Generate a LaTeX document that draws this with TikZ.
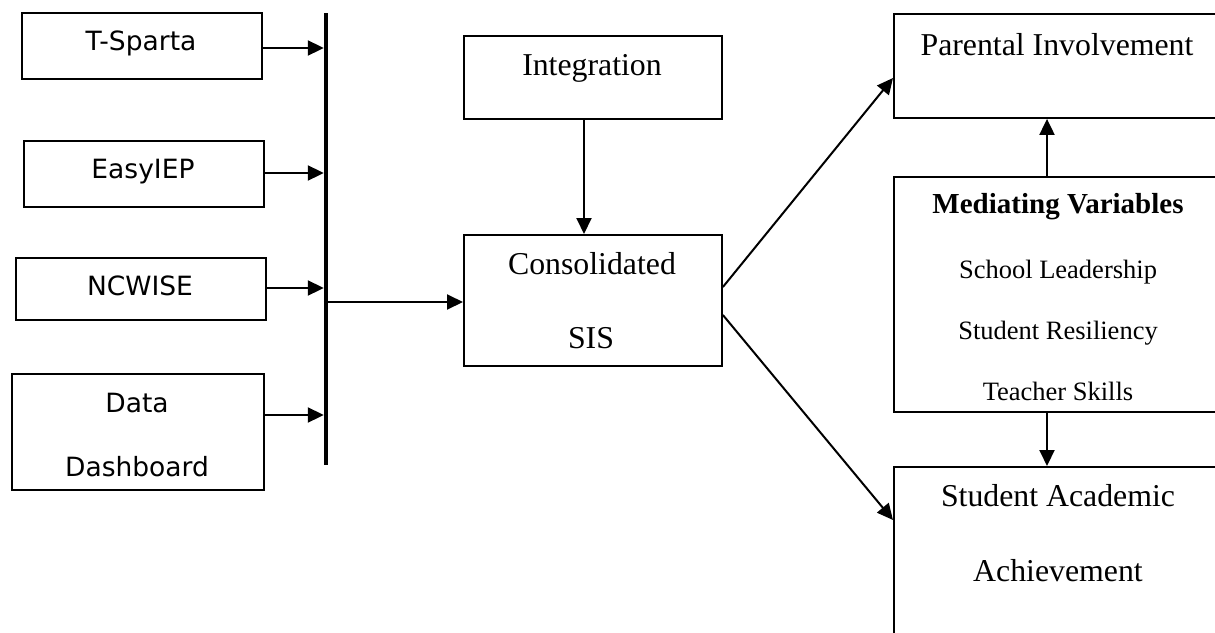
\documentclass[tikz,border=0pt]{standalone}
\usepackage{fontspec}
\setmainfont{Liberation Serif}
\newfontfamily\vsans{DejaVu Sans}
\usetikzlibrary{arrows.meta,calc}
\begin{document}
\begin{tikzpicture}[x=1pt,y=-1pt,
  box/.style={draw, line width=1.9pt, inner sep=0pt, anchor=north west},
  arr/.style={line width=2pt, -{Triangle[length=16pt,width=15pt]}},
  sanst/.style={font=\vsans\fontsize{26.5}{30}\selectfont, anchor=base, inner sep=0pt},
  sert/.style={font=\fontsize{31.8}{36}\selectfont, anchor=base, inner sep=0pt},
  smallt/.style={font=\fontsize{26.5}{30}\selectfont, anchor=base, inner sep=0pt},
  boldt/.style={font=\bfseries\fontsize{29}{33}\selectfont, anchor=base, inner sep=0pt}]
\useasboundingbox (0,0) rectangle (1215,632);
\clip (0,0) rectangle (1215,632);

% boxes
\node[box, minimum width=240pt, minimum height=66pt]  (tsp)   at (21,12) {};
\node[box, minimum width=240pt, minimum height=66pt]  (eiep)  at (23,140) {};
\node[box, minimum width=250pt, minimum height=62pt]  (ncw)   at (15,257) {};
\node[box, minimum width=252pt, minimum height=116pt] (dd)    at (11,373) {};
\node[box, minimum width=258pt, minimum height=83pt]  (integ) at (463,35) {};
\node[box, minimum width=258pt, minimum height=131pt] (cons)  at (463,234) {};
\node[box, minimum width=329pt, minimum height=104pt] (par)   at (893,13) {};
\node[box, minimum width=329pt, minimum height=235pt] (med)   at (893,176) {};
\node[box, minimum width=329pt, minimum height=200pt] (saa)   at (893,466) {};

% texts
\node[sanst] (tspt)  at (141,50)  {T-Sparta};
\node[sanst] (eiept) at (143,178) {EasyIEP};
\node[sanst] (ncwt)  at (140,295) {NCWISE};
\node[sanst] (ddt1)  at (137,412) {Data};
\node[sanst] (ddt2)  at (137,476) {Dashboard};
\node[sert]  (integt) at (592,75)  {Integration};
\node[sert]  (const1) at (592,274) {Consolidated};
\node[sert]  (const2) at (591,348) {SIS};
\node[sert]  (part)   at (1057,55) {Parental Involvement};
\node[boldt] (medt)   at (1058,213) {Mediating Variables};
\node[smallt] (medt1) at (1058,278) {School Leadership};
\node[smallt] (medt2) at (1058,339) {Student Resiliency};
\node[smallt] (medt3) at (1058,400) {Teacher Skills};
\node[sert]  (saat1)  at (1058,506) {Student Academic};
\node[sert]  (saat2)  at (1058,581) {Achievement};

% vertical bar
\node[fill, inner sep=0pt, minimum width=4pt, minimum height=452pt, anchor=north] (bar) at (326,13) {};

% levels
\coordinate (y1) at (0,48);
\coordinate (y2) at (0,173);
\coordinate (y3) at (0,288);
\coordinate (y4) at (0,415);
\coordinate (y5) at (0,302);
\coordinate (c1) at (0,287);
\coordinate (c2) at (0,315);
\coordinate (p1) at (0,78);
\coordinate (s1) at (0,520);
\coordinate (xi) at (584,0);
\coordinate (xm) at (1047,0);

% connectors
\draw[arr] (tsp.east |- y1)  -- (bar.west |- y1);
\draw[arr] (eiep.east |- y2) -- (bar.west |- y2);
\draw[arr] (ncw.east |- y3)  -- (bar.west |- y3);
\draw[arr] (dd.east |- y4)   -- (bar.west |- y4);
\draw[arr] (bar.west |- y5)  -- (cons.west |- y5);
\draw[arr] (integ.south -| xi) -- (cons.north -| xi);
\draw[arr] (cons.east |- c1) -- (par.west |- p1);
\draw[arr] (cons.east |- c2) -- (saa.west |- s1);
\draw[arr] (med.north -| xm) -- (par.south -| xm);
\draw[arr] (med.south -| xm) -- (saa.north -| xm);
\end{tikzpicture}
\end{document}
